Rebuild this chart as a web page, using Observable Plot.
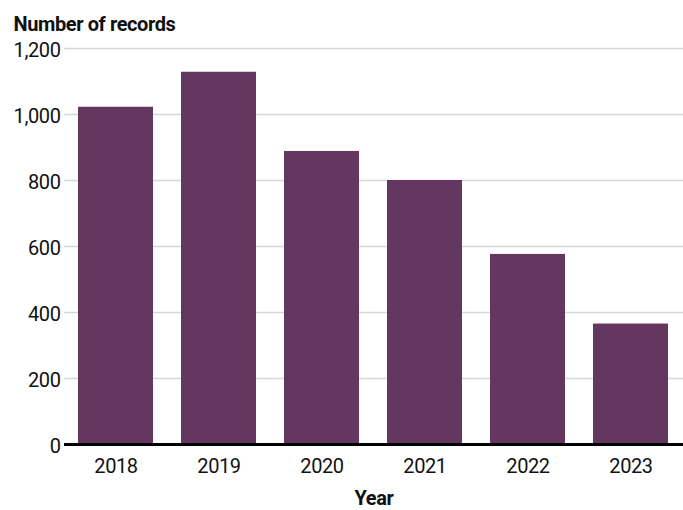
<!DOCTYPE html>
<html>
<head>
<meta charset="utf-8">
<script src="https://cdn.jsdelivr.net/npm/d3@7"></script>
<script src="https://cdn.jsdelivr.net/npm/@observablehq/plot@0.6"></script>
<style>
  html, body { margin: 0; padding: 0; background: #fff; }
  #chart svg { display: block; }
  #chart svg text { letter-spacing: -0.4px; }
</style>
</head>
<body>
<div id="chart"></div>
<script>
const years = ["2018", "2019", "2020", "2021", "2022", "2023"];
const records = [1022, 1128, 888, 800, 576, 365];
const yTicks = [0, 200, 400, 600, 800, 1000, 1200];
const yTitle = "Number of records";
const xTitle = "Year";

const data = years.map((y, i) => ({year: y, value: records[i]}));
const font = "Roboto, 'Liberation Sans', sans-serif";

const chart = Plot.plot({
  width: 683,
  height: 510,
  marginTop: 48,
  marginBottom: 66,
  marginLeft: 64,
  marginRight: 0,
  style: {fontFamily: font, fontSize: "20px", color: "#111", background: "#fff"},
  x: {domain: years, paddingInner: 0.27, paddingOuter: 0.135, label: null},
  y: {domain: [0, 1200], label: null},
  marks: [
    Plot.gridY(yTicks, {stroke: "#d6d6d6", strokeOpacity: 1, strokeWidth: 1.5}),
    Plot.barY(data, {x: "year", y: "value", fill: "#643761"}),
    Plot.ruleY([0], {stroke: "#000", strokeWidth: 3}),
    Plot.axisY(yTicks, {tickSize: 0, tickPadding: 4, tickFormat: d3.format(","), label: null, fontSize: 20, dy: 2}),
    Plot.axisX({tickSize: 0, tickPadding: 14, label: null, fontSize: 20}),
    Plot.text([yTitle], {frameAnchor: "top-left", lineAnchor: "bottom", dx: -51, dy: -18, textAnchor: "start", fontWeight: "bold", fontSize: 20, fill: "#111"}),
    Plot.text([xTitle], {frameAnchor: "bottom", lineAnchor: "bottom", dy: 60, fontWeight: "bold", fontSize: 20, fill: "#111"})
  ]
});
document.getElementById("chart").appendChild(chart);
</script>
</body>
</html>
